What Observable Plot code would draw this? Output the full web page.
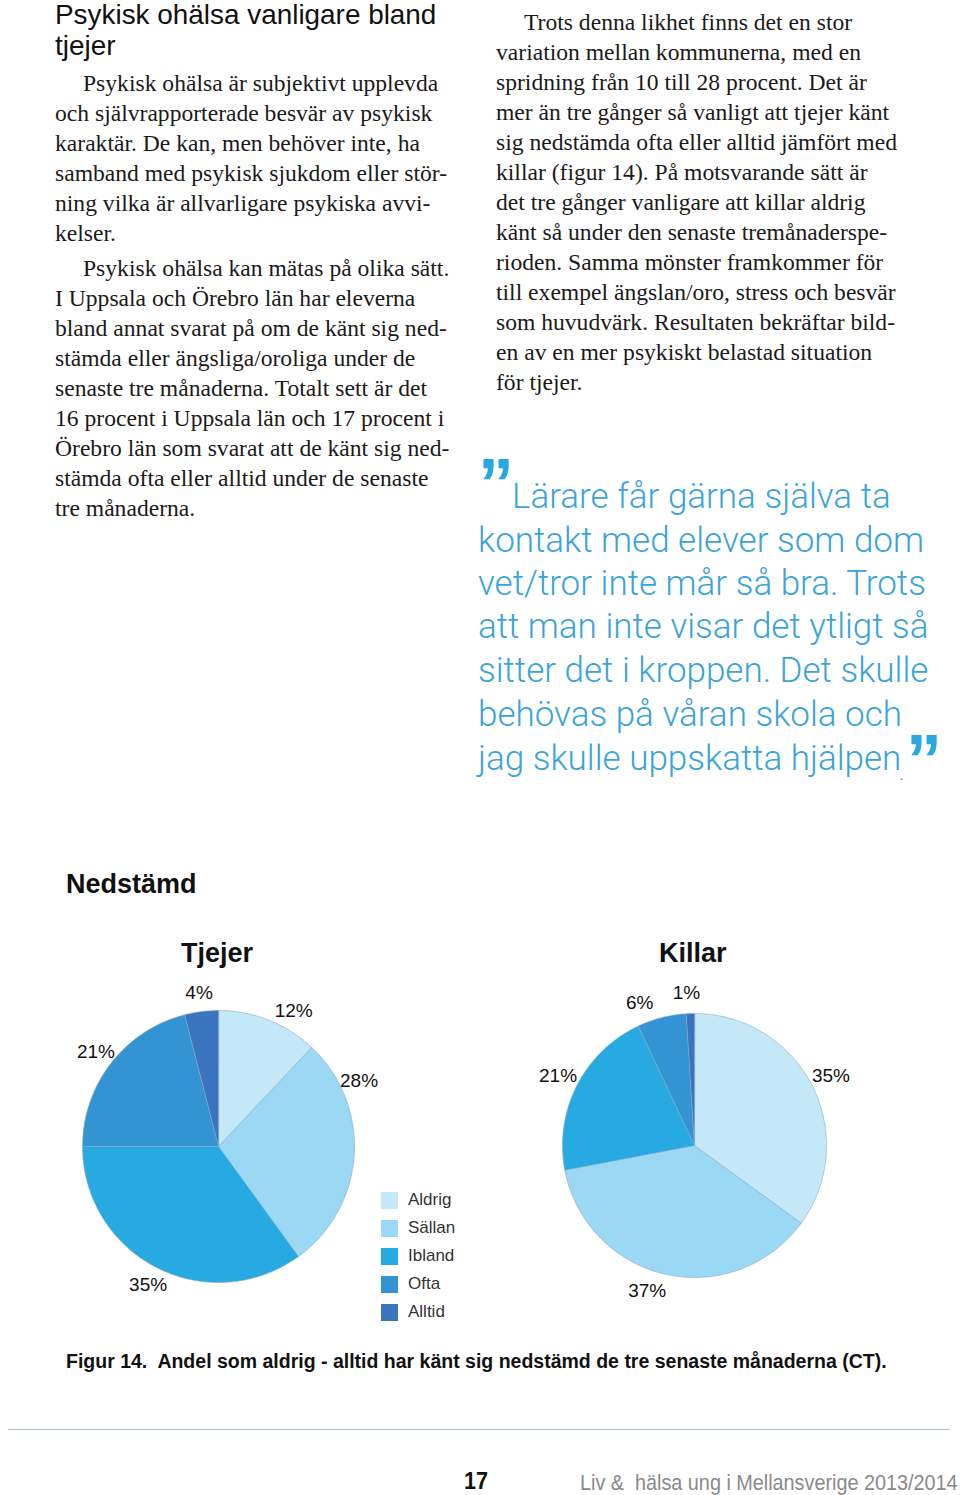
<!DOCTYPE html>
<html lang="sv">
<head>
<meta charset="utf-8">
<script src="https://cdn.jsdelivr.net/npm/d3@7"></script>
<script src="https://cdn.jsdelivr.net/npm/@observablehq/plot@0.6"></script>
<style>
  html, body { margin: 0; padding: 0; background: #fff; }
  #page { position: relative; width: 960px; height: 1495px; overflow: hidden; color: #111; }
  .abs { position: absolute; white-space: pre; }
  .serif { font-family: "Liberation Serif", "DejaVu Serif", serif; font-size: 23.6px; line-height: 30px; color: #1a1a1a; text-indent: 28px; }
  .heading { font-family: "Liberation Sans", Arial, sans-serif; font-size: 27.9px; line-height: 30px; height: 30px; color: #111; }
  .quote { font-family: "Roboto", "Liberation Sans", sans-serif; font-weight: 300; font-size: 35px; line-height: 43px; height: 43px; color: #3aa4d8; }
  .qmark { font-family: "Liberation Sans", Arial, sans-serif; font-weight: bold; color: #29a8e0; font-size: 72px; line-height: 72px; }
  .title { font-family: "Liberation Sans", Arial, sans-serif; font-weight: bold; font-size: 27px; color: #111; }
  .legend { font-family: "Liberation Sans", Arial, sans-serif; font-size: 17px; color: #333; }
  .legend .row { height: 28px; display: flex; align-items: center; }
  .legend .sw { width: 17px; height: 17px; margin-right: 10px; }
  .caption { font-family: "Liberation Sans", Arial, sans-serif; font-weight: bold; font-size: 19.5px; color: #111; }
  .plotwrap { position: absolute; }
</style>
</head>
<body>
<div id="page">
  <!-- Left column -->
  <div class="abs heading" style="left:55px; top:0px;">Psykisk ohälsa vanligare bland</div>
  <div class="abs heading" style="left:55px; top:31px;">tjejer</div>
  <div class="abs serif" style="left:55px; top:68px;">Psykisk ohälsa är subjektivt upplevda
och självrapporterade besvär av psykisk
karaktär. De kan, men behöver inte, ha
samband med psykisk sjukdom eller stör-
ning vilka är allvarligare psykiska avvi-
kelser.</div>
  <div class="abs serif" style="left:55px; top:253px;">Psykisk ohälsa kan mätas på olika sätt.
I Uppsala och Örebro län har eleverna
bland annat svarat på om de känt sig ned-
stämda eller ängsliga/oroliga under de
senaste tre månaderna. Totalt sett är det
16 procent i Uppsala län och 17 procent i
Örebro län som svarat att de känt sig ned-
stämda ofta eller alltid under de senaste
tre månaderna.</div>

  <!-- Right column -->
  <div class="abs serif" style="left:496px; top:7px;">Trots denna likhet finns det en stor
variation mellan kommunerna, med en
spridning från 10 till 28 procent. Det är
mer än tre gånger så vanligt att tjejer känt
sig nedstämda ofta eller alltid jämfört med
killar (figur 14). På motsvarande sätt är
det tre gånger vanligare att killar aldrig
känt så under den senaste tremånaderspe-
rioden. Samma mönster framkommer för
till exempel ängslan/oro, stress och besvär
som huvudvärk. Resultaten bekräftar bild-
en av en mer psykiskt belastad situation
för tjejer.</div>

  <!-- Quote -->
  <div class="abs qmark" style="left:478px; top:448px;">”</div>
  <div class="abs quote" style="left:512px; top:475px;">Lärare får gärna själva ta</div>
  <div class="abs quote" style="left:478px; top:519px;">kontakt med elever som dom</div>
  <div class="abs quote" style="left:478px; top:562px;">vet/tror inte mår så bra. Trots</div>
  <div class="abs quote" style="left:478px; top:605px;">att man inte visar det ytligt så</div>
  <div class="abs quote" style="left:478px; top:649px;">sitter det i kroppen. Det skulle</div>
  <div class="abs quote" style="left:478px; top:693px;">behövas på våran skola och</div>
  <div class="abs quote" style="left:478px; top:737px;">jag skulle uppskatta hjälpen</div>
  <div class="abs quote" style="left:899px; top:766px; font-size:20px; line-height:14px; height:14px;">.</div>
  <div class="abs qmark" style="left:906px; top:724px;">”</div>

  <!-- Chart -->
  <div class="abs title" style="left:66px; top:869px;">Nedstämd</div>
  <div class="abs title" style="left:181px; top:938px;">Tjejer</div>
  <div class="abs title" style="left:659px; top:938px;">Killar</div>
  <div class="plotwrap" id="pieTjejer"></div>
  <div class="plotwrap" id="pieKillar"></div>
  <div class="abs legend" id="legend" style="left:381px; top:1186px;"></div>

  <div class="abs caption" style="left:66px; top:1350px;">Figur 14.  Andel som aldrig - alltid har känt sig nedstämd de tre senaste månaderna (CT).</div>
  <div style="position:absolute; left:8px; top:1429px; width:942px; height:1px; background:#a9c8cf;"></div>
  <div class="abs" style="left:464px; top:1467px; font-family:'Liberation Sans',sans-serif; font-weight:bold; font-size:24px; color:#111; transform:scaleX(0.9); transform-origin:left;">17</div>
  <div class="abs" style="left:580px; top:1470px; font-family:'Liberation Sans',sans-serif; font-size:22px; color:#8a8a8a; transform:scaleX(0.9); transform-origin:left;">Liv &amp;  hälsa ung i Mellansverige 2013/2014</div>
</div>

<script>
// ---- Data ----
const categories = ["Aldrig", "Sällan", "Ibland", "Ofta", "Alltid"];
const tjejerValues = [12, 28, 35, 21, 4];
const killarValues = [35, 37, 21, 6, 1];
const groups = ["Tjejer", "Killar"];

// ---- Styling ----
const palette = ["#c5e8f8", "#9bd8f4", "#27aae1", "#3393d3", "#3a74bf"];
// label placement tweaks (degrees clockwise from top), as in the original layout
const labelAngleOverride = { "Tjejer|Aldrig": 29, "Tjejer|Sällan": 65, "Killar|Sällan": 198, "Killar|Ofta": 339, "Killar|Alltid": 357 };

function pieData(group, values) {
  const total = d3.sum(values);
  const pts = [];
  const labels = [];
  let cum = 0;
  values.forEach((v, i) => {
    const a0 = cum / total * 2 * Math.PI;
    cum += v;
    const a1 = cum / total * 2 * Math.PI;
    const n = Math.max(2, Math.ceil((a1 - a0) / (Math.PI / 180)));
    pts.push({slice: categories[i], cat: categories[i], x: 0, y: 0});
    for (let k = 0; k <= n; k++) {
      const a = a0 + (a1 - a0) * k / n;
      pts.push({slice: categories[i], cat: categories[i], x: Math.sin(a), y: Math.cos(a)});
    }
    const key = group + "|" + categories[i];
    const am = key in labelAngleOverride ? labelAngleOverride[key] * Math.PI / 180 : (a0 + a1) / 2;
    labels.push({text: v + "%", am});
  });
  return {pts, labels};
}

function drawPie(group, values, radiusPx, labelR, cx, cy, el) {
  const size = 420;
  const half = size / 2 / radiusPx;
  const {pts, labels} = pieData(group, values);
  const chart = Plot.plot({
    width: size, height: size,
    margin: 0,
    x: {domain: [-half, half], axis: null},
    y: {domain: [-half, half], axis: null},
    color: {domain: categories, range: palette},
    style: {background: "transparent", overflow: "visible"},
    marks: [
      Plot.line(pts, {x: "x", y: "y", z: "slice", fill: "cat", stroke: "#86a9c2", strokeWidth: 0.6, curve: "linear-closed"}),
      Plot.text(labels, {
        x: d => labelR * Math.sin(d.am), y: d => labelR * Math.cos(d.am), text: "text",
        fontSize: 19, fill: "#111", fontFamily: "Liberation Sans, Arial, sans-serif"
      })
    ]
  });
  el.style.left = (cx - size / 2) + "px";
  el.style.top = (cy - size / 2) + "px";
  el.appendChild(chart);
}

drawPie("Tjejer", tjejerValues, 136, 1.14, 217.5, 1146, document.getElementById("pieTjejer"));
drawPie("Killar", killarValues, 132, 1.16, 693.5, 1145, document.getElementById("pieKillar"));

// Legend
const legend = document.getElementById("legend");
categories.forEach((c, i) => {
  const row = document.createElement("div");
  row.className = "row";
  const sw = document.createElement("div");
  sw.className = "sw";
  sw.style.background = palette[i];
  const t = document.createElement("span");
  t.textContent = c;
  row.appendChild(sw); row.appendChild(t);
  legend.appendChild(row);
});
</script>
</body>
</html>
